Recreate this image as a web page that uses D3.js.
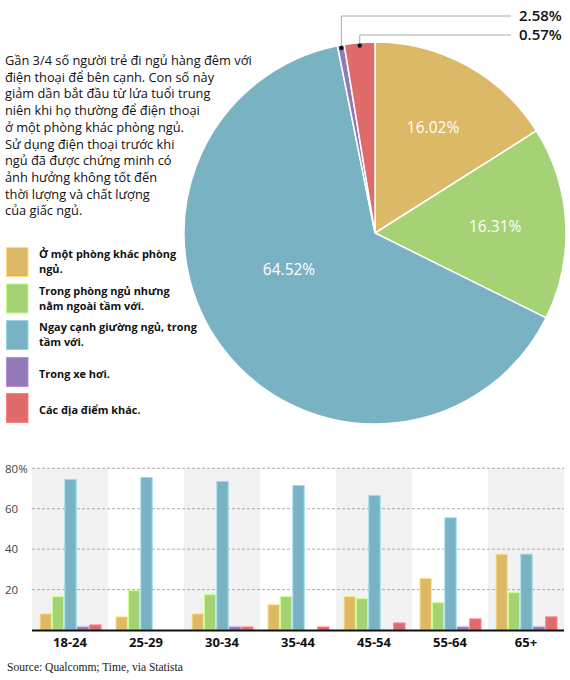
<!DOCTYPE html>
<html><head><meta charset="utf-8">
<script src="https://cdn.jsdelivr.net/npm/d3@7/dist/d3.min.js"></script>
<style>
html,body{margin:0;padding:0;background:#fff;}
svg{display:block;}
</style></head>
<body>
<svg id="chart" width="570" height="680"></svg>
<script>
// ---------- DATA ----------
const categories = [
  ["Ở một phòng khác phòng", "ngủ."],
  ["Trong phòng ngủ nhưng", "nằm ngoài tầm với."],
  ["Ngay cạnh giường ngủ, trong", "tầm với."],
  ["Trong xe hơi."],
  ["Các địa điểm khác."]
];
const colors = ["#dcb967", "#a5d274", "#79b2c3", "#9479b7", "#e06b6b"];
const pieValues = [16.02, 16.31, 64.52, 0.57, 2.58];
const pieInsideLabels = ["16.02%", "16.31%", "64.52%", null, null];
const pieOutsideLabels = [null, null, null, "2.58%", "0.57%"];

const ageGroups = ["18-24", "25-29", "30-34", "35-44", "45-54", "55-64", "65+"];
const seriesOtherRoom = [8, 6.5, 8, 12.5, 16.5, 25.5, 37.5];
const seriesBedroom   = [16.5, 19.5, 17.5, 16.5, 15.5, 13.5, 18.5];
const seriesNextToBed = [74.5, 75.5, 73.5, 71.5, 66.5, 55.5, 37.5];
const seriesCar       = [1.5, 0, 1.5, 0, 0, 1.5, 1.5];
const seriesOther     = [2.5, 0, 1.5, 1.5, 3.5, 5.5, 6.5];
const yTicks = [20, 40, 60, 80];
const yTickLabels = ["20", "40", "60", "80%"];

const paragraph = [
  "Gần 3/4 số người trẻ đi ngủ hàng đêm với",
  "điện thoại để bên cạnh. Con số này",
  "giảm dần bắt đầu từ lứa tuổi trung",
  "niên khi họ thường để điện thoại",
  "ở một phòng khác phòng ngủ.",
  "Sử dụng điện thoại trước khi",
  "ngủ đã được chứng minh có",
  "ảnh hưởng không tốt đến",
  "thời lượng và chất lượng",
  "của giấc ngủ."
];
const sourceText = "Source: Qualcomm; Time, via Statista";

// ---------- DRAW ----------
const svg = d3.select("#chart");
const sans = "'Open Sans', 'Noto Sans', sans-serif";

function fitText(sel, targetWidth, baseSize) {
  const w = sel.node().getComputedTextLength();
  return baseSize * targetWidth / w;
}

// Paragraph
const para = svg.append("g").attr("font-family", sans).attr("fill", "#111");
const paraLines = para.selectAll("text").data(paragraph).join("text")
  .attr("x", 5).attr("y", (d, i) => 65 + i * 16.7)
  .attr("font-size", 13).text(d => d);
const pfs = fitText(paraLines.filter((d, i) => i === 0), 247, 13);
paraLines.attr("font-size", pfs);

// Pie
const cx = 375, cy = 233, R = 191;
const pieGen = d3.pie().sort(null).value(d => d)
  .startAngle(0).endAngle(2 * Math.PI);
const arcs = pieGen(pieValues);
const arcGen = d3.arc().innerRadius(0).outerRadius(R);
const pieG = svg.append("g").attr("transform", `translate(${cx},${cy})`);
pieG.selectAll("path").data(arcs).join("path")
  .attr("d", arcGen)
  .attr("fill", (d, i) => colors[i])
  .attr("stroke", "#fff").attr("stroke-width", 1.5);

const labelArc = d3.arc().innerRadius(R * 0.63).outerRadius(R * 0.63);
pieG.selectAll("text.in").data(arcs.filter((d, i) => pieInsideLabels[i]))
  .join("text").attr("class", "in")
  .attr("transform", d => {
    const i = d.index;
    let [x, y] = labelArc.centroid(d);
    if (i === 2) { x = -86; y = 36; }
    return `translate(${x},${y})`;
  })
  .attr("text-anchor", "middle").attr("dy", "0.36em")
  .attr("font-family", sans).attr("font-size", 15.5).attr("fill", "#fff")
  .text(d => pieInsideLabels[d.index]);

// Outside labels with leader lines
const outside = arcs.filter((d, i) => pieOutsideLabels[i]);
const lineYs = [16, 35];
outside.forEach((d, k) => {
  const a = (d.startAngle + d.endAngle) / 2;
  const rr = R - 3;
  const px = Math.sin(a) * rr, py = -Math.cos(a) * rr;
  const ly = lineYs[k] - cy;
  pieG.append("path")
    .attr("d", `M${px},${py}V${ly}H${511 - cx}`)
    .attr("fill", "none").attr("stroke", "#aaa").attr("stroke-width", 1);
  pieG.append("circle").attr("cx", px).attr("cy", py).attr("r", 2.2).attr("fill", "#111");
  pieG.append("text").attr("x", 519 - cx).attr("y", ly).attr("dy", "0.36em")
    .attr("font-family", sans).attr("font-size", 15).attr("font-weight", 600)
    .attr("fill", "#111").text(pieOutsideLabels[d.index]);
});

// Legend
const legend = svg.append("g");
const legY = [247, 283.5, 320, 357, 393];
const legItems = legend.selectAll("g").data(categories).join("g")
  .attr("transform", (d, i) => `translate(0,${legY[i]})`);
legItems.append("rect").attr("x", 6.5).attr("y", 0.5).attr("width", 21.5).attr("height", 29)
  .attr("fill", (d, i) => colors[i])
  .attr("stroke", (d, i) => d3.color(colors[i]).brighter(0.5)).attr("stroke-width", 1);
const legText = legItems.append("text")
  .attr("font-family", sans).attr("font-weight", 700).attr("font-size", 11.5).attr("fill", "#111");
legText.selectAll("tspan").data(d => d).join("tspan")
  .attr("x", (d, i, n) => 39)
  .attr("y", (d, i, n) => n.length === 1 ? 21 : 11 + i * 15)
  .text(d => d);
const lfs = fitText(legText.filter((d, i) => i === 2).select("tspan"), 158, 11.5);
legText.attr("font-size", lfs);

// Bar chart
const series = [seriesOtherRoom, seriesBedroom, seriesNextToBed, seriesCar, seriesOther];
const x0 = d3.scaleBand().domain(ageGroups).range([32, 564]).paddingInner(0);
const x1 = d3.scaleBand().domain(d3.range(series.length))
  .range([8, x0.bandwidth() - 7]).paddingInner(0.09);
const y = d3.scaleLinear().domain([0, 80]).range([630, 468.3]);

const barG = svg.append("g");
barG.selectAll("rect.bg").data(ageGroups.filter((d, i) => i % 2 === 0)).join("rect")
  .attr("class", "bg")
  .attr("x", d => x0(d)).attr("width", x0.bandwidth())
  .attr("y", y(80)).attr("height", y(0) - y(80))
  .attr("fill", "#f2f2f3");

barG.selectAll("line.grid").data(yTicks).join("line").attr("class", "grid")
  .attr("x1", 32).attr("x2", 564).attr("y1", d => y(d)).attr("y2", d => y(d))
  .attr("stroke", "#999").attr("stroke-width", 0.8).attr("stroke-dasharray", "3,2");

barG.selectAll("text.tick").data(yTicks).join("text").attr("class", "tick")
  .attr("x", 5).attr("y", d => y(d) + 4.3)
  .attr("font-family", sans).attr("font-size", 11.5).attr("fill", "#444")
  .text((d, i) => yTickLabels[i]);

const groups = barG.selectAll("g.grp").data(ageGroups).join("g").attr("class", "grp")
  .attr("transform", d => `translate(${x0(d)},0)`);
groups.selectAll("rect").data((d, gi) => series.map((s, si) => ({ si, v: s[gi] })).filter(o => o.v > 0))
  .join("rect")
  .attr("x", d => x1(d.si)).attr("width", x1.bandwidth())
  .attr("y", d => y(d.v)).attr("height", d => y(0) - y(d.v))
  .attr("fill", d => colors[d.si])
  .attr("stroke", d => d3.color(colors[d.si]).brighter(0.6)).attr("stroke-width", 1);

barG.append("line").attr("x1", 32).attr("x2", 564).attr("y1", 630.5).attr("y2", 630.5)
  .attr("stroke", "#111").attr("stroke-width", 2);

barG.selectAll("text.xl").data(ageGroups).join("text").attr("class", "xl")
  .attr("x", d => x0(d) + x0.bandwidth() / 2).attr("y", 647)
  .attr("text-anchor", "middle")
  .attr("font-family", sans).attr("font-weight", 700).attr("font-size", 13).attr("fill", "#111")
  .text(d => d);

// Source
const src = svg.append("text").attr("x", 7).attr("y", 671)
  .attr("font-family", "'Liberation Serif', 'DejaVu Serif', serif")
  .attr("font-size", 11).attr("fill", "#222").text(sourceText);
src.attr("font-size", fitText(src, 176, 11));
</script>
</body></html>
